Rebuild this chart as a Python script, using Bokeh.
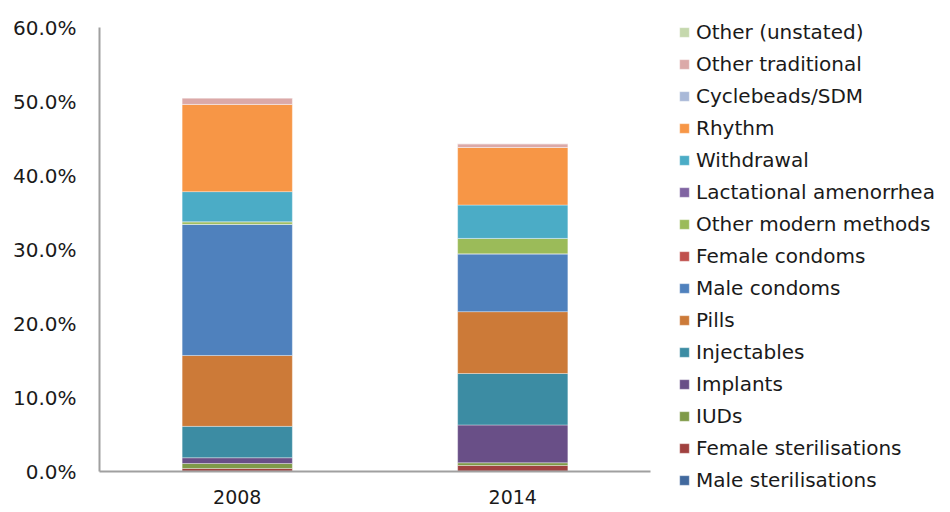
from bokeh.plotting import figure
from bokeh.models import ColumnDataSource, Legend, LegendItem, PrintfTickFormatter, FixedTicker
from bokeh.embed import file_html
from bokeh.resources import INLINE

years = ["2008", "2014"]
methods = ["Male sterilisations", "Female sterilisations", "IUDs", "Implants", "Injectables",
           "Pills", "Male condoms", "Female condoms", "Other modern methods",
           "Lactational amenorrhea", "Withdrawal", "Rhythm", "Cyclebeads/SDM",
           "Other traditional", "Other (unstated)"]
male_sterilisations = [0.05, 0.05]
female_sterilisations = [0.36, 0.76]
iuds = [0.67, 0.37]
implants = [0.78, 5.11]
injectables = [4.24, 6.95]
pills = [9.58, 8.36]
male_condoms = [17.72, 7.81]
female_condoms = [0.0, 0.0]
other_modern = [0.35, 2.09]
lactational = [0.0, 0.0]
withdrawal = [4.07, 4.51]
rhythm = [11.79, 7.77]
cyclebeads = [0.0, 0.0]
other_traditional = [0.86, 0.50]
other_unstated = [0.0, 0.0]
y_ticks = [0, 10, 20, 30, 40, 50, 60]

colors = ["#41699E", "#A0413F", "#7F9A48", "#694F87", "#3C8CA3", "#CC7A38", "#4F81BD",
          "#C0504D", "#9BBB59", "#8064A2", "#4BACC6", "#F79646", "#A9B9D8", "#DBA9A8", "#C5D8AD"]

series = [male_sterilisations, female_sterilisations, iuds, implants, injectables, pills,
          male_condoms, female_condoms, other_modern, lactational, withdrawal, rhythm,
          cyclebeads, other_traditional, other_unstated]

data = {"years": years}
keys = []
for i, s in enumerate(series):
    k = "s%d" % i
    keys.append(k)
    data[k] = s
source = ColumnDataSource(data)

FONT = "DejaVu Sans"

p = figure(x_range=years, y_range=(0, 60), frame_width=551, frame_height=444,
           output_backend="svg", toolbar_location=None,
           min_border_left=99, min_border_top=27, min_border_bottom=0,
           min_border_right=0)
p.outline_line_color = None
p.xgrid.grid_line_color = None
p.ygrid.grid_line_color = None
p.x_range.range_padding = 0

renderers = p.vbar_stack(keys, x="years", width=0.4, color=colors, source=source,
                         line_color="white", line_alpha=0.35, line_width=1)

items = [LegendItem(label=m, renderers=[r]) for m, r in zip(methods, renderers)]
items = items[::-1]
legend = Legend(items=items, location=(28, -21))
legend.border_line_color = None
legend.background_fill_alpha = 0
legend.label_text_font = FONT
legend.label_text_font_size = "20px"
legend.label_text_color = "#1a1a1a"
legend.glyph_width = 12
legend.glyph_height = 12
legend.label_standoff = 6
legend.spacing = 8
legend.label_height = 20
legend.margin = 0
legend.padding = 0
p.add_layout(legend, "right")

p.yaxis.ticker = FixedTicker(ticks=y_ticks)
p.yaxis.formatter = PrintfTickFormatter(format="%.1f%%")
for ax in (p.xaxis[0], p.yaxis[0]):
    ax.axis_line_color = "#a0a0a0"
    ax.axis_line_width = 2
    ax.major_tick_line_color = None
    ax.minor_tick_line_color = None
    ax.major_tick_out = 0
    ax.major_tick_in = 0
    ax.major_label_text_font = FONT
    ax.major_label_text_color = "#1a1a1a"
p.yaxis.major_label_text_font_size = "20px"
p.xaxis.major_label_text_font_size = "19px"
p.yaxis.major_label_standoff = 23
p.xaxis.major_label_standoff = 18

open("out.html", "w").write(file_html(p, INLINE))
